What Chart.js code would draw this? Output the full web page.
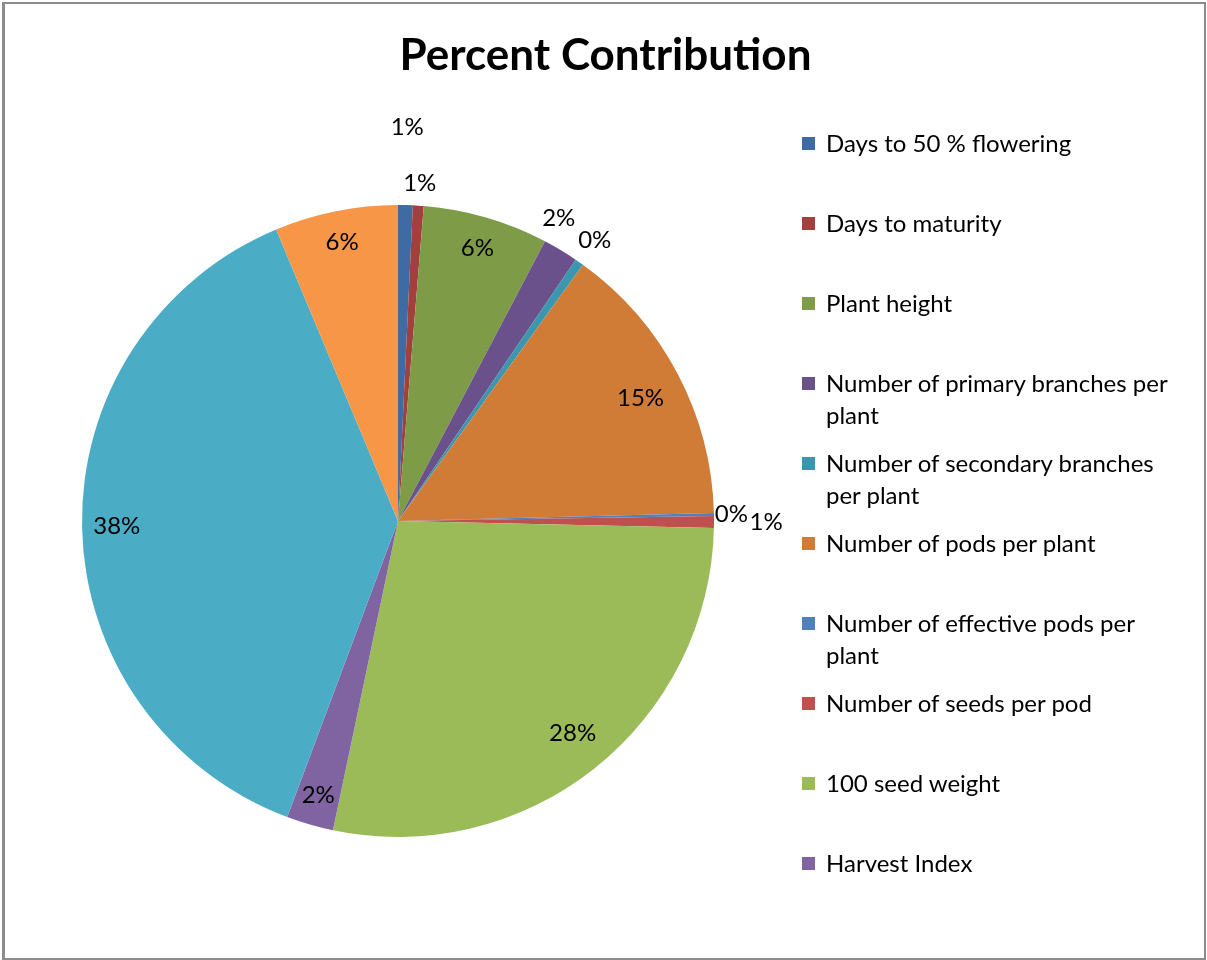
<!DOCTYPE html>
<html>
<head>
<meta charset="utf-8">
<script src="https://cdn.jsdelivr.net/npm/chart.js@4.4.0/dist/chart.umd.min.js"></script>
<style>
  html, body { margin: 0; padding: 0; background: #fff; }
  #wrap { position: relative; width: 1207px; height: 960px; overflow: hidden; }
  #frame { position: absolute; left: 2px; top: 2px; width: 1199px; height: 954px; border: 2px solid #8c8c8c; border-left-width: 3px; }
  #pie { position: absolute; left: 0; top: 0; }
  #title { position: absolute; left: 0; width: 1211px; top: 26px; text-align: center; font-family: Lato, "Open Sans", sans-serif; font-size: 44px; font-weight: bold; line-height: 54px; color: #000; }
  #legend { position: absolute; left: 802px; top: 0; font-family: Lato, "Open Sans", sans-serif; font-size: 24px; color: #000; }
  .item { position: absolute; left: 0; width: 380px; line-height: 32px; }
  .box { position: absolute; left: 0; top: 10px; width: 13px; height: 13px; }
  .txt { margin-left: 24px; }
</style>
</head>
<body>
<div id="wrap">
  <div id="frame"></div>
  <canvas id="pie" width="1207" height="960"></canvas>
  <div id="title">Percent Contribution</div>
  <div id="legend"></div>
</div>
<script>
const traits = [
    'Days to 50 % flowering', 'Days to maturity', 'Plant height',
    'Number of primary branches per plant', 'Number of secondary branches per plant',
    'Number of pods per plant', 'Number of effective pods per plant',
    'Number of seeds per pod', '100 seed weight', 'Harvest Index',
    'Error', 'Other'
];
const contribution = [0.75, 0.55, 6.4, 1.8, 0.45, 14.65, 0.15, 0.6, 27.95, 2.4, 38.0, 6.3];
const sliceColors = ['#3f6ba4', '#a1403d', '#7e9b48', '#6a518b', '#3b97ae', '#d07c37',
                     '#4f81bd', '#c0504d', '#9bbb59', '#8064a2', '#4bacc6', '#f79646'];
// legend in the original only lists the first ten
const legendCount = 10;

// label placement: distance from centre as a share of radius, and small angle nudge in degrees
const labelRadius = [1.245, 1.07, 0.9, 1.085, 1.085, 0.86, 1.055, 1.165, 0.87, 0.905, 0.89, 0.9];
const labelNudge = [0, 0, 0, -3, 0, 1, 0, 0, -1, 0, 0, 0];

const pctLabels = {
    id: 'pctLabels',
    afterDatasetsDraw(chart) {
        const ctx = chart.ctx;
        const meta = chart.getDatasetMeta(0);
        const data = chart.data.datasets[0].data;
        const total = data.reduce((a, b) => a + b, 0);
        ctx.save();
        ctx.font = '24px Lato, "Open Sans", sans-serif';
        ctx.fillStyle = '#000';
        ctx.textAlign = 'center';
        ctx.textBaseline = 'middle';
        meta.data.forEach((arc, i) => {
            const p = arc.getProps(['x', 'y', 'startAngle', 'endAngle', 'outerRadius'], true);
            const a = (p.startAngle + p.endAngle) / 2 + labelNudge[i] * Math.PI / 180;
            const r = p.outerRadius * labelRadius[i];
            const txt = Math.round(data[i] / total * 100) + '%';
            ctx.fillText(txt, p.x + Math.cos(a) * r, p.y + Math.sin(a) * r);
        });
        ctx.restore();
    }
};

const chart = new Chart(document.getElementById('pie').getContext('2d'), {
    type: 'pie',
    data: {
        labels: traits,
        datasets: [{
            data: contribution,
            backgroundColor: sliceColors,
            borderWidth: 0,
            hoverOffset: 0
        }]
    },
    options: {
        responsive: false,
        animation: false,
        layout: { padding: { left: 82, right: 493, top: 205, bottom: 123 } },
        plugins: {
            legend: { display: false },
            tooltip: { enabled: false },
            title: { display: false }
        }
    },
    plugins: [pctLabels]
});

const legend = document.getElementById('legend');
traits.slice(0, legendCount).forEach((name, i) => {
    const item = document.createElement('div');
    item.className = 'item';
    item.style.top = (127 + i * 80) + 'px';
    item.innerHTML = `<span class="box" style="background:${sliceColors[i]}"></span><div class="txt">${name}</div>`;
    legend.appendChild(item);
});
</script>
</body>
</html>
